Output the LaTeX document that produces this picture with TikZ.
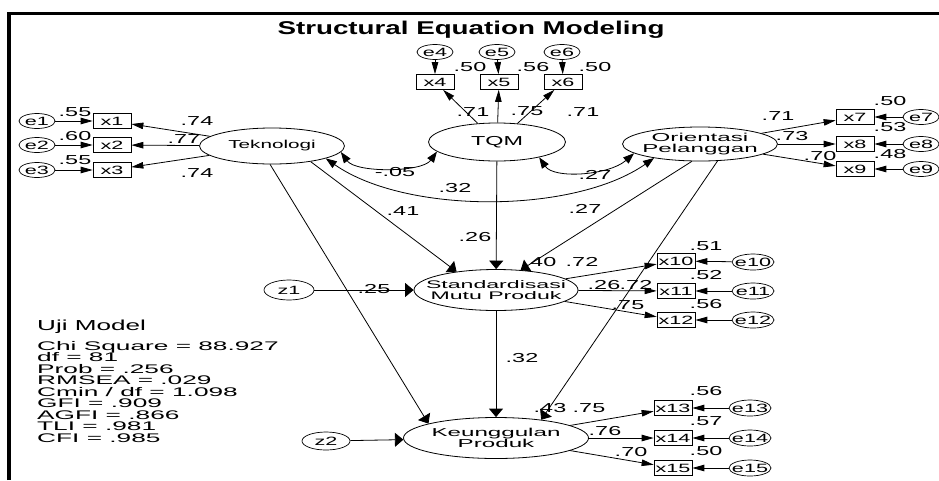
\documentclass[tikz,border=0pt]{standalone}
\usepackage{fontspec}
\usepackage{tikz}
\usetikzlibrary{shapes.geometric,arrows.meta}
\newfontfamily\amos{Liberation Sans}[FakeStretch=1.8]
\newfontfamily\amoswide{Liberation Sans}[FakeStretch=2.1]
\newfontfamily\amostitle{Liberation Sans}[FakeStretch=1.5]
\newcommand\tightlines{\lineskiplimit-20pt\relax}

\tikzset{
	lat/.style={ellipse, draw, line width=0.8pt, inner xsep=-40pt, inner ysep=-8pt, align=center, font=\amoswide\fontsize{11.5}{10.5}\selectfont\tightlines},
	err/.style={ellipse, draw, line width=0.7pt, inner xsep=-20pt, inner ysep=-5pt, minimum width=36pt, minimum height=15pt, font=\amos\fontsize{12}{12}\selectfont},
	obs/.style={rectangle, draw, line width=0.7pt, inner sep=0pt, minimum width=38pt, minimum height=15pt, font=\amos\fontsize{12}{12}\selectfont},
	coef/.style={inner sep=0pt, font=\amos\fontsize{13}{13}\selectfont},
	regr/.style={line width=0.8pt, -{Triangle[length=8.5pt,width=14pt]}},
	loadarr/.style={line width=0.8pt, -{Triangle[length=12pt,width=6.5pt]}},
	cov/.style={line width=0.8pt, {Triangle[length=11pt,width=8pt]}-{Triangle[length=11pt,width=8pt]}}
}

\begin{document}
\begin{tikzpicture}[x=1pt, y=-1pt]
	\useasboundingbox (0,0) rectangle (939,480);
	\draw[line width=3.5pt] (9,480) -- (9,13.5) -- (939,13.5);
	\node[anchor=base, inner sep=0pt, font=\amostitle\bfseries\fontsize{18.5}{18.5}\selectfont] (title) at (471,34) {Structural Equation Modeling};

	\node[lat, minimum width=145pt, minimum height=36pt, font=\amos\fontsize{11.5}{10}\selectfont] (tek) at (272,146) {Teknologi};
	\node[lat, minimum width=137pt, minimum height=38pt, font=\amos\fontsize{13}{13}\selectfont] (tqm) at (497,142) {TQM};
	\node[lat, minimum width=155pt, minimum height=34pt] (ori) at (700,144) {Orientasi\\Pelanggan};
	\node[lat, minimum width=164pt, minimum height=41pt, font=\amoswide\fontsize{11}{10.5}\selectfont\tightlines] (std) at (496,290) {Standardisasi\\Mutu Produk};
	\node[lat, minimum width=185pt, minimum height=41pt] (keu) at (496,438) {Keunggulan\\Produk};
	\node[err, minimum width=50pt, minimum height=20pt] (z1) at (289,290) {z1};
	\node[err, minimum width=48pt, minimum height=18pt] (z2) at (326,441) {z2};

	\node[obs] (x1) at (112,121) {x1};
	\node[obs] (x2) at (112,145) {x2};
	\node[obs] (x3) at (112,170) {x3};
	\node[obs] (x4) at (435,82) {x4};
	\node[obs] (x5) at (499,82) {x5};
	\node[obs] (x6) at (563,82) {x6};
	\node[obs] (x7) at (855,117) {x7};
	\node[obs] (x8) at (855,144) {x8};
	\node[obs] (x9) at (855,169) {x9};
	\node[obs] (x10) at (676,261) {x10};
	\node[obs] (x11) at (676,291) {x11};
	\node[obs] (x12) at (676,320) {x12};
	\node[obs] (x13) at (673,408) {x13};
	\node[obs] (x14) at (673,438) {x14};
	\node[obs] (x15) at (673,468) {x15};

	\node[err] (e1) at (37,121) {e1};
	\node[err] (e2) at (37,145) {e2};
	\node[err] (e3) at (37,170) {e3};
	\node[err] (e4) at (435,52) {e4};
	\node[err] (e5) at (497,52) {e5};
	\node[err] (e6) at (562,52) {e6};
	\node[err] (e7) at (921,117) {e7};
	\node[err] (e8) at (921,144) {e8};
	\node[err] (e9) at (921,169) {e9};
	\node[err, minimum width=42pt, minimum height=16pt] (e10) at (753,262) {e10};
	\node[err, minimum width=42pt, minimum height=16pt] (e11) at (753,291) {e11};
	\node[err, minimum width=42pt, minimum height=16pt] (e12) at (753,320) {e12};
	\node[err, minimum width=42pt, minimum height=16pt] (e13) at (750,408) {e13};
	\node[err, minimum width=42pt, minimum height=16pt] (e14) at (750,438) {e14};
	\node[err, minimum width=42pt, minimum height=16pt] (e15) at (750,468) {e15};

	\draw[loadarr] (e1) -- (x1);
	\draw[loadarr] (e2) -- (x2);
	\draw[loadarr] (e3) -- (x3);
	\draw[loadarr] (e4) -- (x4);
	\draw[loadarr] (e5) -- (x5);
	\draw[loadarr] (e6) -- (x6);
	\draw[loadarr] (e7) -- (x7);
	\draw[loadarr] (e8) -- (x8);
	\draw[loadarr] (e9) -- (x9);
	\draw[loadarr] (e10) -- (x10);
	\draw[loadarr] (e11) -- (x11);
	\draw[loadarr] (e12) -- (x12);
	\draw[loadarr] (e13) -- (x13);
	\draw[loadarr] (e14) -- (x14);
	\draw[loadarr] (e15) -- (x15);

	\draw[loadarr] (tek) -- (x1);
	\draw[loadarr] (tek) -- (x2);
	\draw[loadarr] (tek) -- (x3);
	\draw[loadarr] (tqm) -- (x4);
	\draw[loadarr] (tqm) -- (x5);
	\draw[loadarr] (tqm) -- (x6);
	\draw[loadarr] (ori) -- (x7);
	\draw[loadarr] (ori) -- (x8);
	\draw[loadarr] (ori) -- (x9);
	\draw[loadarr] (std) -- (x10);
	\draw[loadarr] (std) -- (x11);
	\draw[loadarr] (std) -- (x12);
	\draw[loadarr] (keu) -- (x13);
	\draw[loadarr] (keu) -- (x14);
	\draw[loadarr] (keu) -- (x15);

	\draw[cov] (tek.-5) .. controls +(15,21) and +(-15,21) .. (tqm.189);
	\draw[cov] (tek.-13) .. controls +(80,56) and +(-80,56) .. (ori.197);
	\draw[cov] (tqm.-20) .. controls +(15,22) and +(-25,22) .. (ori.188);

	\draw[regr] (tek.-22) -- (std.155);
	\draw[regr] (tqm) -- (std);
	\draw[regr] (ori.-115) -- (std.39);
	\draw[regr] (tek.-96) -- (keu.168);
	\draw[regr] (std) -- (keu);
	\draw[regr] (ori.-44) -- (keu.22);
	\draw[regr] (z1) -- (std);
	\draw[regr] (z2) -- (keu);

	\node[coef] (s1) at (75,112) {.55};
	\node[coef] (s2) at (75,136) {.60};
	\node[coef] (s3) at (75,160) {.55};
	\node[coef] (l1) at (197,121) {.74};
	\node[coef] (l2) at (184,139) {.77};
	\node[coef] (l3) at (197,173) {.74};
	\node[coef] (s4) at (470,67) {.50};
	\node[coef] (s5) at (533,67) {.56};
	\node[coef] (s6) at (595,67) {.50};
	\node[coef] (l4) at (473,112) {.71};
	\node[coef] (l5) at (527,111) {.75};
	\node[coef] (l6) at (583,112) {.71};
	\node[coef] (l7) at (778,116) {.71};
	\node[coef] (l8) at (792,136) {.73};
	\node[coef] (l9) at (820,156) {.70};
	\node[coef] (s7) at (890,101) {.50};
	\node[coef] (s8) at (890,127) {.53};
	\node[coef] (s9) at (890,154) {.48};
	\node[coef] (k1) at (395,172) {-.05};
	\node[coef] (k2) at (455,188) {.32};
	\node[coef] (k3) at (595,175) {.27};
	\node[coef] (p1) at (403,211) {.41};
	\node[coef] (p2) at (475,237) {.26};
	\node[coef] (p3) at (585,209) {.27};
	\node[coef] (p4) at (374,289) {.25};
	\node[coef] (r1) at (540,262) {.40};
	\node[coef] (l10) at (582,262) {.72};
	\node[coef] (r2) at (604,285) {.26};
	\node[coef] (l11) at (636,285) {.72};
	\node[coef] (l12) at (628,305) {.75};
	\node[coef] (s10) at (706,246) {.51};
	\node[coef] (s11) at (706,275) {.52};
	\node[coef] (s12) at (706,304) {.56};
	\node[coef] (p5) at (522,358) {.32};
	\node[coef] (r3) at (550,408) {.43};
	\node[coef] (l13) at (589,408) {.75};
	\node[coef] (l14) at (605,431) {.76};
	\node[coef] (l15) at (631,452) {.70};
	\node[coef] (s13) at (706,391) {.56};
	\node[coef] (s14) at (706,421) {.57};
	\node[coef] (s15) at (706,451) {.50};

	\node[anchor=base west, inner sep=0pt, font=\amos\fontsize{14.5}{14.5}\selectfont] (uji) at (37,330) {Uji Model};
	\node[anchor=north west, inner sep=0pt, align=left, font=\amoswide\fontsize{12.5}{11.5}\selectfont\tightlines] (fit) at (37,341) {Chi Square = 88.927\\df = 81\\Prob = .256\\RMSEA = .029\\Cmin / df = 1.098\\GFI = .909\\AGFI = .866\\TLI = .981\\CFI = .985};
\end{tikzpicture}
\end{document}
